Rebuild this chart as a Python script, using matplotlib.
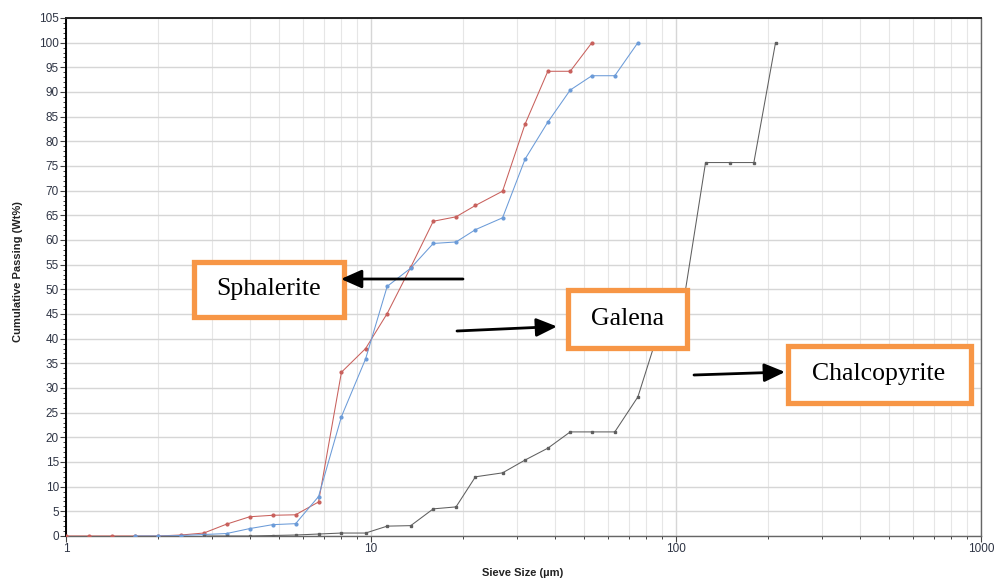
import matplotlib.pyplot as plt
from matplotlib.patches import Rectangle, FancyArrowPatch
from matplotlib.ticker import MultipleLocator, LogLocator, NullFormatter, FixedLocator

# sieve sizes (um) and cumulative passing (wt%)
red_x = [1.0, 1.19, 1.41, 1.68, 2.0, 2.38, 2.83, 3.36, 4.0, 4.76, 5.66, 6.73,
         8.0, 9.6, 11.3, 13.5, 16, 19, 22, 27, 32, 38, 45, 53]
red_y = [0, 0, 0, 0, 0, 0.2, 0.6, 2.4, 3.9, 4.2, 4.3, 6.9,
         33.2, 38.0, 45.1, 54.5, 63.8, 64.7, 67.0, 69.9, 83.5, 94.2, 94.2, 100]

blue_x = [1.68, 2.0, 2.38, 2.83, 3.36, 4.0, 4.76, 5.66, 6.73, 8.0, 9.6, 11.3,
          13.5, 16, 19, 22, 27, 32, 38, 45, 53, 63, 75]
blue_y = [0, 0, 0.1, 0.3, 0.5, 1.5, 2.3, 2.5, 8.0, 24.2, 35.9, 50.6,
          54.3, 59.3, 59.6, 62.1, 64.5, 76.4, 83.9, 90.4, 93.3, 93.3, 100]

black_x = [2.83, 3.36, 4.0, 4.76, 5.66, 6.73, 8.0, 9.6, 11.3, 13.5, 16, 19, 22,
           27, 32, 38, 45, 53, 63, 75, 90, 106, 125, 150, 180, 212]
black_y = [0, 0, 0, 0.1, 0.2, 0.4, 0.6, 0.6, 2.0, 2.1, 5.5, 5.9, 12.0,
           12.8, 15.4, 17.8, 21.1, 21.1, 21.1, 28.2, 43.7, 47.6, 75.7, 75.7, 75.7, 100]

W, H = 996, 579
fig = plt.figure(figsize=(W / 100, H / 100), dpi=100)
ax = fig.add_axes([66 / W, 1 - 536 / H, (981 - 66) / W, (536 - 18) / H])

ax.plot(red_x, red_y, color='#c8605c', lw=0.75, marker='o', ms=2.0, zorder=3)
ax.plot(blue_x, blue_y, color='#6b9bd8', lw=0.75, marker='o', ms=2.0, zorder=3)
ax.plot(black_x, black_y, color='#5f5f5f', lw=0.75, marker='s', ms=1.9, zorder=3)

ax.set_xscale('log')
ax.set_xlim(1, 1000)
ax.set_ylim(0, 105)
ax.xaxis.set_major_locator(FixedLocator([1, 10, 100, 1000]))
ax.set_xticklabels(['1', '10', '100', '1000'])
ax.xaxis.set_minor_locator(LogLocator(base=10, subs=range(2, 10)))
ax.xaxis.set_minor_formatter(NullFormatter())
ax.yaxis.set_major_locator(MultipleLocator(5))
ax.yaxis.set_minor_locator(MultipleLocator(1))

ax.grid(True, which='major', color='#d6d6d6', lw=1.0)
ax.grid(True, which='minor', axis='x', color='#e6e6e6', lw=0.8)
ax.set_axisbelow(True)

ax.tick_params(which='major', direction='out', length=4, width=0.8, color='#444',
               labelsize=8.5, labelcolor='#2f3545', pad=1)
ax.tick_params(which='minor', direction='out', length=2.5, width=0.7, color='#444')
for lab in ax.get_xticklabels() + ax.get_yticklabels():
    lab.set_family('Liberation Sans')

ax.spines['left'].set_color('black')
ax.spines['left'].set_linewidth(1.4)
ax.spines['top'].set_color('#222')
ax.spines['top'].set_linewidth(1.4)
ax.spines['right'].set_color('#666')
ax.spines['right'].set_linewidth(1.0)
ax.spines['bottom'].set_color('#666')
ax.spines['bottom'].set_linewidth(1.0)

fig.text(523 / W, 1 - 573 / H, 'Sieve Size (µm)', ha='center', va='center',
         fontsize=8, fontweight='bold', family='Liberation Sans', color='#222')
fig.text(18 / W, 1 - 272 / H, 'Cumulative Passing (Wt%)', ha='center', va='center',
         rotation=90, fontsize=8, fontweight='bold', family='Liberation Sans', color='#222')


def px(x, y):
    return x / W, 1 - y / H


def label_box(x0, y0, x1, y1, text):
    fx0, fy1 = px(x0, y1)
    rect = Rectangle((fx0, fy1), (x1 - x0) / W, (y1 - y0) / H, transform=fig.transFigure,
                     facecolor='white', edgecolor='#f79646', lw=3.8, zorder=10)
    fig.patches.append(rect)
    cx, cy = px((x0 + x1) / 2, (y0 + y1) / 2)
    fig.text(cx, cy, text, ha='center', va='center', fontsize=18.5,
             family='Liberation Serif', color='black', zorder=11)


def arrow(xs, ys, xe, ye):
    fig.patches.append(FancyArrowPatch(
        px(xs, ys), px(xe, ye), transform=fig.transFigure,
        arrowstyle='-|>,head_length=0.9,head_width=0.4', mutation_scale=14,
        color='black', lw=2.0, shrinkA=0, shrinkB=0, zorder=12))


label_box(194, 262, 344, 316.5, 'Sphalerite')
label_box(568, 290, 686.5, 347.5, 'Galena')
label_box(787.5, 345.5, 970.5, 403, 'Chalcopyrite')

arrow(463, 279, 341, 279)
arrow(457, 331, 557, 326.5)
arrow(694, 375, 785, 372)

fig.savefig('out.png', dpi=100)
